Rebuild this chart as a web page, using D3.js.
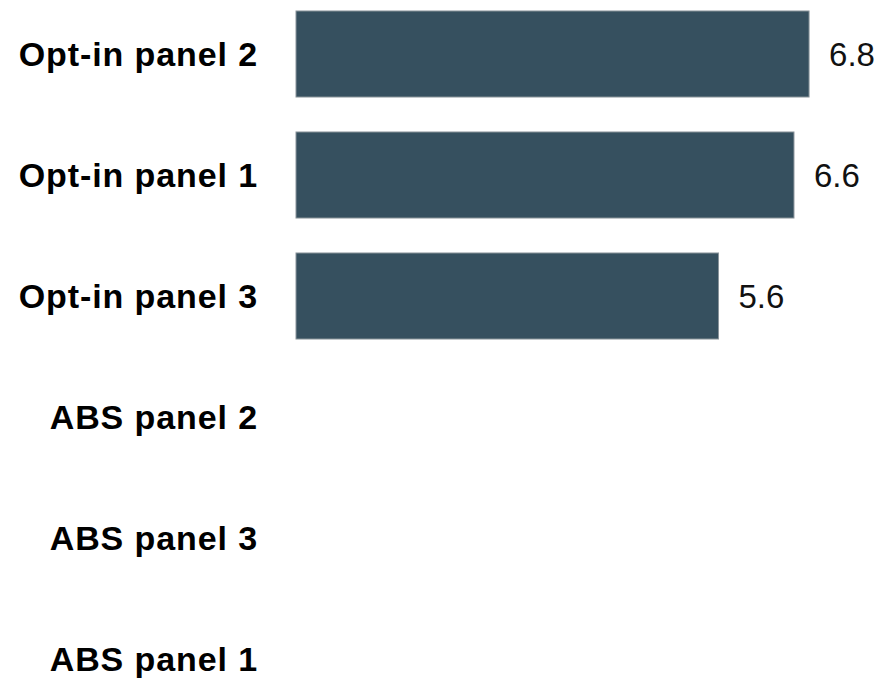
<!DOCTYPE html>
<html>
<head>
<meta charset="utf-8">
<script src="https://cdn.jsdelivr.net/npm/d3@7"></script>
<style>
  html, body { margin: 0; padding: 0; background: #ffffff; }
  svg { display: block; }
  .cat { font-family: "Liberation Sans", Arial, sans-serif; font-weight: bold; font-size: 34px; letter-spacing: 0.9px; fill: #000; }
  .val { font-family: "Liberation Sans", Arial, sans-serif; font-size: 33px; fill: #111; }
</style>
</head>
<body>
<svg id="chart" width="891" height="683"></svg>
<script>
// Panel names, top to bottom
const categories = ["Opt-in panel 2", "Opt-in panel 1", "Opt-in panel 3", "ABS panel 2", "ABS panel 3", "ABS panel 1"];
// Values per panel; ABS panels have no bar shown
const values = [6.8, 6.6, 5.6, null, null, null];

const data = categories.map((c, i) => ({ cat: c, value: values[i] }));

const svg = d3.select("#chart");

const y = d3.scaleBand()
  .domain(categories)
  .range([-6.5, 719.5])
  .paddingInner(0.289)
  .paddingOuter(0.1445);

const x = d3.scaleLinear()
  .domain([0, 7])
  .range([296, 296 + 7 * 75.45]);

// Category labels, right-aligned against the bar origin
svg.append("g")
  .selectAll("text")
  .data(data)
  .join("text")
  .attr("class", "cat")
  .attr("x", 258)
  .attr("y", d => y(d.cat) + y.bandwidth() / 2)
  .attr("dy", "0.36em")
  .attr("text-anchor", "end")
  .text(d => d.cat);

const withVal = data.filter(d => d.value != null);

svg.append("g")
  .selectAll("rect")
  .data(withVal)
  .join("rect")
  .attr("x", x(0))
  .attr("y", d => y(d.cat))
  .attr("width", d => x(d.value) - x(0))
  .attr("height", y.bandwidth())
  .attr("fill", "#36505f")
  .attr("stroke", "#8a949b")
  .attr("stroke-width", 1);

svg.append("g")
  .selectAll("text")
  .data(withVal)
  .join("text")
  .attr("class", "val")
  .attr("x", d => x(d.value) + 20)
  .attr("y", d => y(d.cat) + y.bandwidth() / 2)
  .attr("dy", "0.36em")
  .text(d => d3.format(".1f")(d.value));
</script>
</body>
</html>
